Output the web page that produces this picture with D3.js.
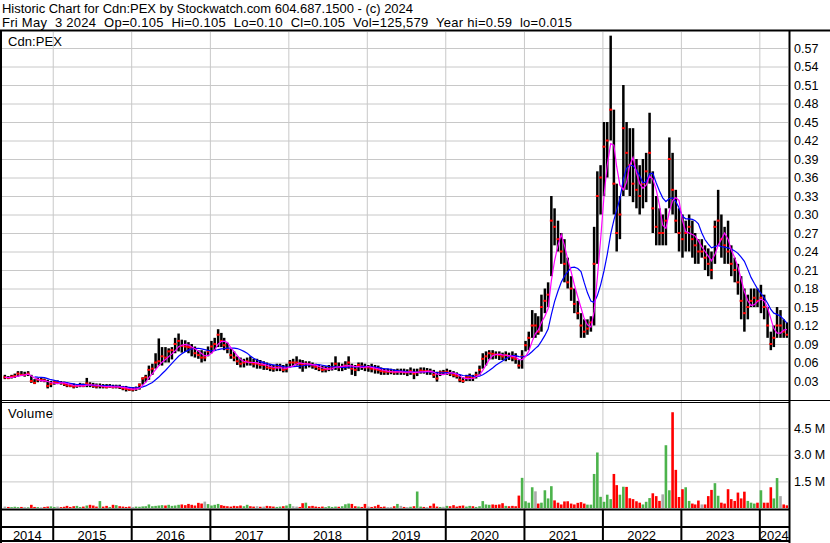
<!DOCTYPE html>
<html lang="en">
  <head>
    <meta charset="UTF-8" />
    <title>Historic Chart for Cdn:PEX</title>
    <style>
      body { margin: 0; background: #fff; }
      svg { display: block; font-family: 'Liberation Sans', Arial, sans-serif; }
      .hdr { font-size: 13px; white-space: pre; }
      .lbl { font-size: 13px; }
      .axis text { font-size: 12.5px; fill: #000; font-family: 'Liberation Sans', Arial, sans-serif; }
    </style>
  </head>
  <body>
    <script src="https://cdn.jsdelivr.net/npm/d3@7/dist/d3.min.js"></script>
    <script>
      // One bar per half month: 16 May 2014, then the 1st and 16th of each month up to 1 May 2024
      // (rows: 2014 .. 2024)
      const highs = [
        0.040,0.038,0.040,0.042,0.046,0.046,0.045,0.046,0.040,0.033,0.035,0.035,0.034,0.032,0.030,
        0.030,0.031,0.030,0.029,0.027,0.026,0.026,0.025,0.027,0.026,0.035,0.028,0.027,0.026,0.026,0.025,0.025,0.025,0.024,0.024,0.024,0.022,0.022,0.020,
        0.020,0.021,0.026,0.036,0.040,0.055,0.058,0.075,0.099,0.085,0.085,0.083,0.085,0.100,0.107,0.097,0.096,0.093,0.090,0.086,0.080,0.080,0.078,0.086,
        0.095,0.100,0.114,0.108,0.100,0.092,0.082,0.078,0.070,0.068,0.066,0.068,0.070,0.066,0.066,0.064,0.062,0.060,0.058,0.056,0.058,0.058,0.056,0.058,
        0.064,0.066,0.070,0.065,0.064,0.062,0.062,0.060,0.058,0.056,0.055,0.054,0.056,0.060,0.070,0.060,0.058,0.062,0.070,0.058,0.056,0.060,0.060,0.058,
        0.056,0.058,0.056,0.055,0.052,0.050,0.050,0.050,0.049,0.050,0.050,0.050,0.049,0.052,0.050,0.050,0.052,0.052,0.051,0.050,0.048,0.045,0.047,0.048,
        0.050,0.048,0.046,0.044,0.040,0.036,0.040,0.042,0.040,0.045,0.055,0.075,0.078,0.080,0.080,0.078,0.078,0.076,0.078,0.076,0.078,0.075,0.064,0.080,
        0.095,0.110,0.145,0.140,0.135,0.170,0.180,0.190,0.330,0.310,0.290,0.270,0.260,0.230,0.200,0.180,0.160,0.140,0.130,0.130,0.135,0.280,0.370,0.380,
        0.450,0.450,0.590,0.470,0.350,0.330,0.510,0.450,0.440,0.440,0.390,0.380,0.390,0.400,0.465,0.370,0.330,0.310,0.300,0.310,0.425,0.400,0.340,0.310,
        0.300,0.290,0.300,0.290,0.270,0.260,0.260,0.250,0.245,0.240,0.290,0.340,0.300,0.280,0.290,0.250,0.230,0.220,0.200,0.180,0.170,0.180,0.180,0.180,
        0.186,0.170,0.150,0.110,0.120,0.150,0.145,0.130,0.125
      ];
      const lows = [
        0.033,0.033,0.034,0.035,0.037,0.038,0.037,0.038,0.027,0.025,0.028,0.029,0.028,0.018,0.020,
        0.024,0.025,0.024,0.022,0.020,0.020,0.018,0.019,0.020,0.020,0.020,0.020,0.019,0.018,0.018,0.018,0.018,0.019,0.018,0.018,0.017,0.015,0.013,0.014,
        0.013,0.014,0.016,0.024,0.028,0.032,0.040,0.050,0.055,0.055,0.060,0.060,0.065,0.075,0.078,0.076,0.077,0.075,0.070,0.068,0.066,0.060,0.062,0.070,
        0.075,0.080,0.085,0.085,0.080,0.075,0.066,0.062,0.056,0.052,0.052,0.055,0.055,0.052,0.050,0.050,0.048,0.048,0.046,0.045,0.046,0.046,0.044,0.044,
        0.052,0.054,0.055,0.050,0.045,0.050,0.052,0.050,0.048,0.046,0.044,0.044,0.046,0.047,0.048,0.046,0.046,0.048,0.050,0.040,0.038,0.046,0.048,0.046,
        0.045,0.044,0.042,0.042,0.040,0.040,0.040,0.041,0.040,0.040,0.040,0.040,0.038,0.040,0.033,0.038,0.042,0.042,0.040,0.040,0.035,0.029,0.038,0.040,
        0.040,0.038,0.036,0.034,0.028,0.027,0.030,0.030,0.030,0.034,0.040,0.050,0.055,0.065,0.065,0.066,0.064,0.064,0.062,0.064,0.062,0.058,0.050,0.050,
        0.078,0.080,0.100,0.100,0.105,0.110,0.140,0.150,0.200,0.250,0.240,0.220,0.190,0.180,0.160,0.140,0.130,0.100,0.100,0.105,0.110,0.120,0.220,0.300,
        0.330,0.360,0.420,0.300,0.240,0.260,0.330,0.340,0.330,0.320,0.310,0.300,0.310,0.320,0.350,0.270,0.250,0.250,0.250,0.250,0.310,0.300,0.270,0.240,
        0.230,0.240,0.240,0.230,0.220,0.220,0.230,0.210,0.200,0.195,0.220,0.250,0.230,0.220,0.220,0.200,0.190,0.170,0.130,0.110,0.130,0.150,0.150,0.150,
        0.140,0.130,0.100,0.080,0.085,0.100,0.100,0.100,0.100
      ];
      const closes = [
        0.036,0.035,0.037,0.038,0.042,0.040,0.040,0.042,0.030,0.027,0.032,0.032,0.031,0.022,0.025,
        0.028,0.028,0.027,0.025,0.023,0.022,0.021,0.022,0.023,0.022,0.026,0.024,0.022,0.021,0.022,0.021,0.020,0.021,0.020,0.021,0.020,0.018,0.017,0.016,
        0.016,0.018,0.024,0.034,0.036,0.048,0.050,0.060,0.062,0.070,0.068,0.078,0.080,0.090,0.095,0.087,0.086,0.085,0.083,0.075,0.072,0.068,0.068,0.078,
        0.086,0.090,0.105,0.095,0.088,0.082,0.072,0.068,0.062,0.058,0.060,0.062,0.060,0.058,0.058,0.056,0.056,0.052,0.051,0.050,0.052,0.053,0.048,0.050,
        0.060,0.060,0.060,0.058,0.056,0.058,0.057,0.055,0.053,0.050,0.048,0.049,0.050,0.052,0.058,0.052,0.053,0.055,0.060,0.050,0.048,0.056,0.054,0.052,
        0.052,0.050,0.049,0.048,0.046,0.045,0.045,0.045,0.044,0.045,0.045,0.044,0.044,0.046,0.042,0.044,0.047,0.046,0.046,0.045,0.040,0.034,0.044,0.044,
        0.045,0.042,0.040,0.038,0.032,0.030,0.036,0.037,0.035,0.040,0.048,0.066,0.070,0.075,0.074,0.073,0.072,0.070,0.072,0.070,0.068,0.066,0.055,0.070,
        0.088,0.100,0.120,0.120,0.110,0.150,0.160,0.170,0.290,0.280,0.260,0.240,0.220,0.190,0.180,0.155,0.140,0.120,0.110,0.115,0.125,0.220,0.330,0.360,
        0.410,0.420,0.470,0.350,0.270,0.300,0.440,0.400,0.380,0.350,0.340,0.330,0.350,0.370,0.400,0.310,0.280,0.270,0.270,0.290,0.390,0.340,0.290,0.270,
        0.260,0.270,0.280,0.260,0.250,0.240,0.240,0.230,0.220,0.210,0.280,0.290,0.260,0.250,0.240,0.220,0.210,0.190,0.160,0.140,0.150,0.160,0.165,0.160,
        0.165,0.150,0.120,0.090,0.100,0.120,0.120,0.110,0.105
      ];
      // volume in millions of shares
      const volumes = [
        0.08,0.06,0.05,0.07,0.05,0.06,0.05,0.04,0.18,0.06,0.05,0.04,0.06,0.08,0.09,
        0.06,0.08,0.05,0.07,0.12,0.06,0.10,0.12,0.06,0.08,0.14,0.18,0.14,0.08,0.39,0.08,0.12,0.06,0.18,0.16,0.10,0.08,0.06,0.08,
        0.06,0.08,0.07,0.09,0.10,0.20,0.10,0.12,0.14,0.16,0.14,0.18,0.12,0.14,0.18,0.20,0.16,0.23,0.18,0.14,0.29,0.25,0.36,0.22,
        0.14,0.18,0.23,0.16,0.12,0.10,0.08,0.12,0.10,0.14,0.10,0.18,0.10,0.08,0.10,0.07,0.08,0.12,0.10,0.08,0.06,0.08,0.10,0.14,
        0.23,0.10,0.08,0.06,0.27,0.30,0.10,0.12,0.08,0.06,0.08,0.05,0.10,0.06,0.08,0.07,0.10,0.21,0.25,0.23,0.10,0.08,0.06,0.23,
        0.08,0.06,0.10,0.18,0.06,0.08,0.05,0.06,0.10,0.23,0.12,0.06,0.05,0.07,0.10,0.93,0.08,0.06,0.05,0.12,0.25,0.08,0.06,0.07,
        0.12,0.10,0.16,0.08,0.12,0.14,0.08,0.12,0.10,0.06,0.10,0.39,0.20,0.18,0.20,0.18,0.20,0.27,0.12,0.10,0.12,0.10,0.70,1.70,
        0.38,0.30,1.17,0.94,0.25,0.30,1.00,0.54,1.23,0.43,0.30,0.20,0.37,0.38,0.25,0.20,0.29,0.33,0.25,0.19,0.19,1.92,3.13,0.63,
        0.35,0.75,0.50,1.92,1.29,0.75,1.20,1.19,0.55,0.50,0.38,0.30,0.20,0.35,0.56,0.83,0.67,0.40,0.77,3.54,1.00,5.40,2.15,0.62,
        1.06,1.17,0.40,0.25,0.20,0.42,0.20,0.20,0.67,1.02,1.40,0.69,0.30,0.25,1.06,0.50,0.40,0.87,0.54,0.92,0.40,0.30,0.25,0.30,
        1.00,0.30,0.30,1.17,0.54,1.69,0.67,0.20,0.15
      ];
      const years = [2014, 2015, 2016, 2017, 2018, 2019, 2020, 2021, 2022, 2023, 2024];
      const priceTicks = [0.03, 0.06, 0.09, 0.12, 0.15, 0.18, 0.21, 0.24, 0.27, 0.30,
        0.33, 0.36, 0.39, 0.42, 0.45, 0.48, 0.51, 0.54, 0.57];
      const volumeTicks = [1.5, 3.0, 4.5];

      const title = 'Historic Chart for Cdn:PEX by Stockwatch.com 604.687.1500 - (c) 2024';
      const quote = 'Fri May  3 2024  Op=0.105  Hi=0.105  Lo=0.10  Cl=0.105  Vol=125,579  Year hi=0.59  lo=0.015';

      // half-month dates
      const dates = [new Date(2014, 4, 16)];
      d3.timeMonth.range(new Date(2014, 5, 1), new Date(2024, 4, 1)).forEach((m) => {
        dates.push(m, new Date(m.getFullYear(), m.getMonth(), 16));
      });
      dates.push(new Date(2024, 4, 1));

      const data = dates.map((d, i) => ({
        date: d, high: highs[i], low: lows[i], close: closes[i], vol: volumes[i],
        dir: i === 0 ? 0 : Math.sign(closes[i] - closes[i - 1])
      }));

      const movingAvg = (n, partial) => closes.map((c, i) => {
        if (i < n - 1 && !partial) return null;
        const w = closes.slice(Math.max(0, i - n + 1), i + 1);
        return d3.mean(w);
      });
      const maShort = movingAvg(4, true);
      const maLong = movingAvg(10, false);

      const width = 830, height = 543;
      const axisX = 789;
      const svg = d3.select('body').append('svg').attr('width', width).attr('height', height);

      const x = d3.scaleTime()
        .domain([new Date(2014, 4, 10), new Date(2024, 4, 18)])
        .range([2, axisX]);
      const y = d3.scaleLinear().domain([0, 0.6]).range([399.5, 29.5]);
      const yVol = d3.scaleLinear().domain([0, 6]).range([508, 401.6]);
      const xc = (d) => x(d.date) + 1.6;

      // clip areas
      const defs = svg.append('defs');
      defs.append('clipPath').attr('id', 'pclip').append('rect')
        .attr('x', 2).attr('y', 32).attr('width', axisX - 3).attr('height', 368);
      defs.append('clipPath').attr('id', 'vclip').append('rect')
        .attr('x', 2).attr('y', 403).attr('width', axisX - 3).attr('height', 105);

      // grid
      const yearStarts = years.slice(1).map((yr) => new Date(yr, 0, 1));
      svg.append('g').attr('class', 'grid')
        .attr('transform', `translate(${axisX - 1},0)`)
        .call(d3.axisLeft(y).tickValues(priceTicks).tickSize(axisX - 3).tickFormat(''));
      svg.append('g').attr('class', 'grid')
        .attr('transform', `translate(${axisX - 1},0)`)
        .call(d3.axisLeft(yVol).tickValues(volumeTicks).tickSize(axisX - 3).tickFormat(''));
      svg.append('g').attr('class', 'grid')
        .attr('transform', 'translate(0,509)')
        .call(d3.axisTop(x).tickValues(yearStarts).tickSize(477).tickFormat(''));
      svg.selectAll('.grid .domain').remove();
      svg.selectAll('.grid line').attr('stroke', '#c8c8c8');

      // price bars
      const price = svg.append('g').attr('clip-path', 'url(#pclip)');
      price.selectAll('line.bar').data(data).join('line')
        .attr('class', 'bar')
        .attr('x1', xc).attr('x2', xc)
        .attr('y1', (d) => y(d.high)).attr('y2', (d) => Math.max(y(d.low), y(d.high) + 1))
        .attr('stroke', '#000').attr('stroke-width', 2.5);
      price.selectAll('rect.close').data(data).join('rect')
        .attr('class', 'close')
        .attr('x', (d) => xc(d) - 1.5).attr('y', (d) => y(d.close) - 1)
        .attr('width', 3).attr('height', 2)
        .attr('fill', '#ff0000');

      const maLine = (vals) => d3.line()
        .defined((d, i) => vals[i] != null)
        .x(xc)
        .y((d, i) => y(vals[i]));
      price.append('path').datum(data)
        .attr('d', maLine(maLong))
        .attr('fill', 'none').attr('stroke', '#0000ff').attr('stroke-width', 1.2);
      price.append('path').datum(data)
        .attr('d', maLine(maShort))
        .attr('fill', 'none').attr('stroke', '#ff00ff').attr('stroke-width', 1.2);

      // volume bars
      const volColor = { '1': '#4cb34c', '-1': '#ff0000', '0': '#aaaaaa' };
      svg.append('g').attr('clip-path', 'url(#vclip)')
        .selectAll('rect').data(data).join('rect')
        .attr('x', (d) => x(d.date) + 0.3)
        .attr('width', 2.6)
        .attr('y', (d) => yVol(d.vol))
        .attr('height', (d) => yVol(0) - yVol(d.vol))
        .attr('fill', (d) => volColor[d.dir]);

      // right axes
      svg.append('g').attr('class', 'axis')
        .attr('transform', `translate(${axisX + 1},0)`)
        .call(d3.axisRight(y).tickValues(priceTicks).tickSize(0).tickPadding(4).tickFormat(d3.format('.2f')));
      svg.append('g').attr('class', 'axis')
        .attr('transform', `translate(${axisX + 1},0)`)
        .call(d3.axisRight(yVol).tickValues(volumeTicks).tickSize(0).tickPadding(4)
          .tickFormat((d) => d.toFixed(1) + ' M'));
      svg.selectAll('.axis .domain').remove();

      // year row at the bottom
      const bounds = [2, ...yearStarts.map(x), axisX];
      svg.append('g').attr('class', 'axis')
        .attr('transform', 'translate(0,509)')
        .call(d3.axisBottom(x).tickValues(yearStarts).tickSize(32).tickFormat(''))
        .call((g) => g.select('.domain').remove())
        .selectAll('line').attr('stroke', '#000').attr('stroke-width', 2);
      svg.append('g').selectAll('text').data(years).join('text')
        .attr('class', 'lbl')
        .attr('x', (d, i) => (bounds[i] + bounds[i + 1]) / 2)
        .attr('y', 539.5)
        .attr('text-anchor', 'middle')
        .text((d) => d);

      // frame lines
      const frame = svg.append('g').attr('fill', '#000');
      frame.append('rect').attr('x', 0).attr('y', 29.5).attr('width', width).attr('height', 2);
      frame.append('rect').attr('x', 0).attr('y', 30).attr('width', 2).attr('height', height - 30);
      frame.append('rect').attr('x', axisX - 0.5).attr('y', 30).attr('width', 2).attr('height', height - 30);
      frame.append('rect').attr('x', 0).attr('y', 400).attr('width', width).attr('height', 1);
      frame.append('rect').attr('x', 0).attr('y', 402).attr('width', axisX).attr('height', 1);
      frame.append('rect').attr('x', 0).attr('y', 508.5).attr('width', axisX).attr('height', 2);
      frame.append('rect').attr('x', 0).attr('y', 526).attr('width', axisX).attr('height', 2);
      frame.append('rect').attr('x', 0).attr('y', 540).attr('width', axisX).attr('height', 2);

      // texts (widths matched to the original header)
      svg.append('text').attr('class', 'hdr').attr('x', 2).attr('y', 13)
        .attr('textLength', 411).attr('lengthAdjust', 'spacing').text(title);
      svg.append('text').attr('class', 'hdr').attr('x', 2).attr('y', 27)
        .attr('textLength', 570).attr('lengthAdjust', 'spacing').text(quote);
      svg.append('text').attr('class', 'lbl').attr('x', 8).attr('y', 46)
        .attr('textLength', 54).text('Cdn:PEX');
      svg.append('text').attr('class', 'lbl').attr('x', 8).attr('y', 418)
        .attr('textLength', 45).text('Volume');
    </script>
  </body>
</html>
